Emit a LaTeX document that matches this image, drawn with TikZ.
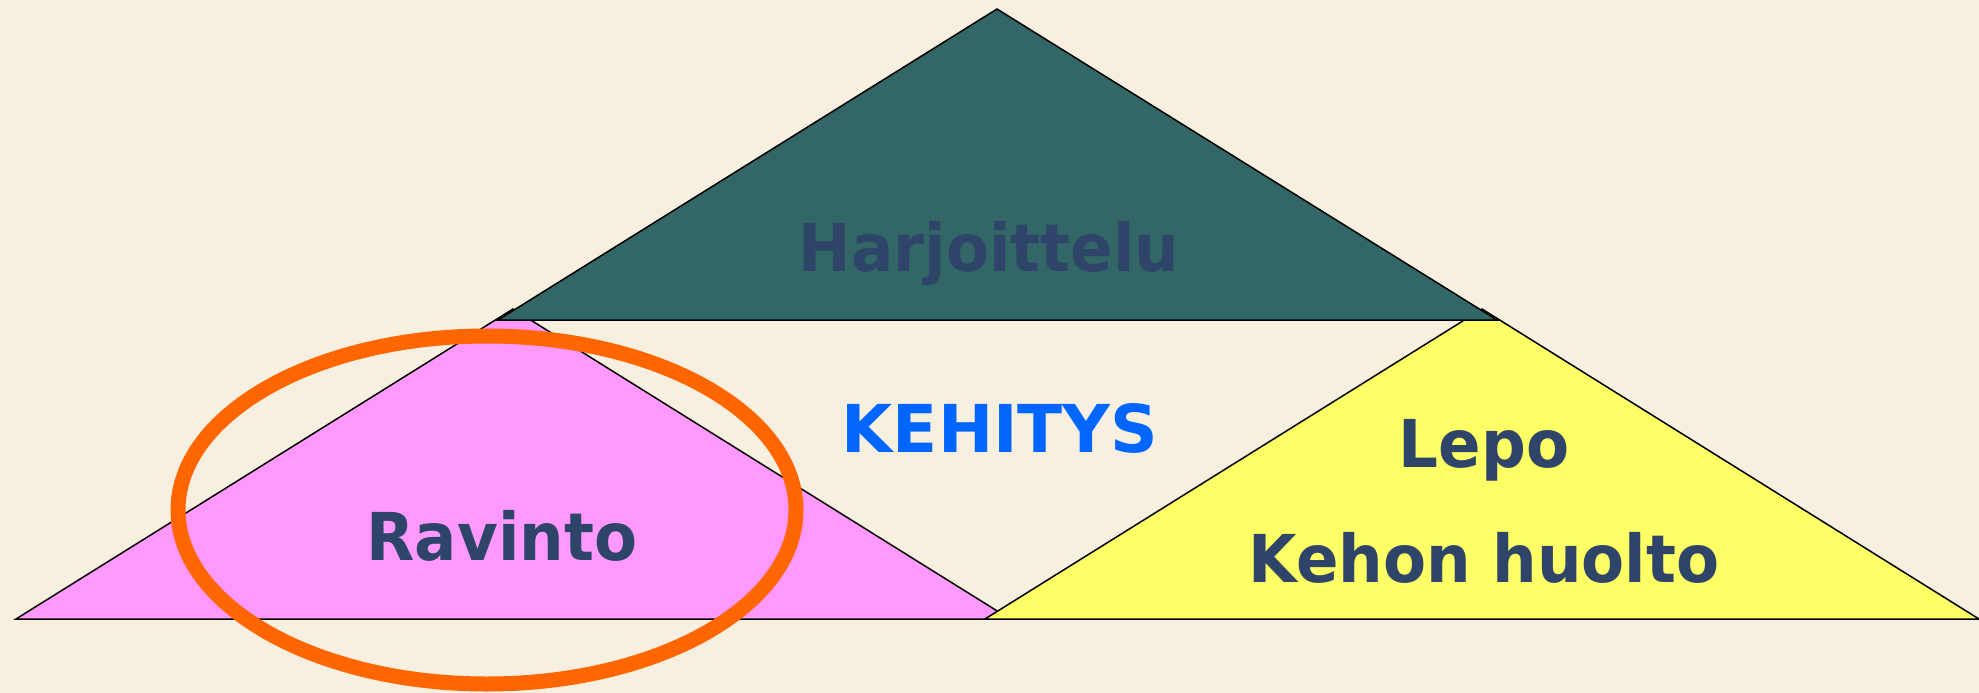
\documentclass[tikz,border=0pt]{standalone}
\usepackage{fontspec}
\setmainfont{DejaVu Sans}
\newfontfamily\narrowfont[FakeStretch=0.95]{DejaVu Sans}
\definecolor{bg}{HTML}{F7F0E0}
\definecolor{teal}{HTML}{336666}
\definecolor{pinkc}{HTML}{FF99FF}
\definecolor{yellowc}{HTML}{FFFF66}
\definecolor{orangec}{HTML}{FF6600}
\definecolor{navy}{HTML}{2E4468}
\definecolor{bluec}{HTML}{0066FF}
\tikzset{
  tri/.style={draw=black, line width=1.5pt, line join=miter},
  lbl/.style={anchor=base, inner sep=0pt, text=navy, font=\narrowfont\fontsize{66}{70}\selectfont\bfseries},
  capslbl/.style={anchor=base, inner sep=0pt, text=bluec, font=\fontsize{66}{70}\selectfont\bfseries},
}
\begin{document}
\begin{tikzpicture}[x=1pt,y=-1pt]
\fill[bg] (0,0) rectangle (1979,693);
\useasboundingbox (0,0) rectangle (1979,693);
% bottom left triangle
\filldraw[tri, fill=pinkc] (16,619) -- (1010,619) -- (513,309) -- cycle;
% bottom right triangle
\filldraw[tri, fill=yellowc] (985,619) -- (1979,619) -- (1482,309) -- cycle;
% top triangle
\filldraw[tri, fill=teal] (498,320) -- (1497,320) -- (997,9) -- cycle;
% labels
\node[lbl] (harj) at (989,271) {Harjoittelu};
\node[capslbl] (keh) at (1000,452) {KEHITYS};
\node[lbl] (lepo) at (1484,467) {Lepo};
\node[lbl] (huolto) at (1484,582) {Kehon huolto};
\node[lbl] (ravinto) at (502,560) {Ravinto};
% highlight ellipse
\draw[orangec, line width=15pt] (487,510) ellipse [x radius=309, y radius=174];
\end{tikzpicture}
\end{document}
